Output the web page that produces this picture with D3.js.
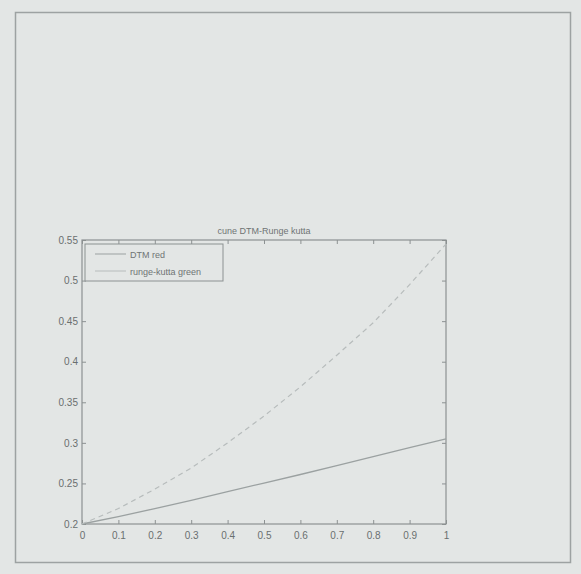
<!DOCTYPE html>
<html>
<head>
<meta charset="utf-8">
<script src="https://cdn.jsdelivr.net/npm/d3@7"></script>
<style>
  body { margin: 0; background: #e3e6e5; }
  svg { display: block; }
  text { font-family: "Liberation Sans", Arial, sans-serif; fill: #6f7474; }
</style>
</head>
<body>
<svg width="581" height="574"></svg>
<script>
// the canvas size
const width = 581
const height = 574

// values
const xValues = [0, 0.1, 0.2, 0.3, 0.4, 0.5, 0.6, 0.7, 0.8, 0.9, 1];
const dtmValues = [0.2, 0.209, 0.219, 0.229, 0.240, 0.2505, 0.261, 0.272, 0.283, 0.294, 0.305];
const rkValues = [0.2, 0.219, 0.243, 0.269, 0.300, 0.333, 0.369, 0.408, 0.448, 0.495, 0.545];
const xTicks = [0, 0.1, 0.2, 0.3, 0.4, 0.5, 0.6, 0.7, 0.8, 0.9, 1];
const yTicks = [0.2, 0.25, 0.3, 0.35, 0.4, 0.45, 0.5, 0.55];
const seriesNames = ["DTM red", "runge-kutta green"];
const titleText = "cune DTM-Runge kutta";

var svg = d3.select(document.getElementsByTagName('svg')[0])

// outer figure frame
svg.append('rect')
  .attr('x', 15.5).attr('y', 12.5)
  .attr('width', 555).attr('height', 550)
  .style('fill', 'none').style('stroke', '#9da2a2').style('stroke-width', 1.5)

// plot box (note: "top" clashes with window.top, so use other names)
var pLeft = 82, pRight = 446, pTop = 240, pBottom = 524

var x = d3.scaleLinear().domain([0, 1]).range([pLeft, pRight])
var y = d3.scaleLinear().domain([0.2, 0.55]).range([pBottom, pTop])

var axisColor = '#8c9192'

// ticks on all four sides, pointing inward (matlab style)
var gx = svg.append('g').attr('transform', 'translate(0,' + pBottom + ')')
  .call(d3.axisBottom(x).tickValues(xTicks).tickSize(-4).tickPadding(8).tickFormat(d => String(+d.toFixed(1))))
var gxTop = svg.append('g').attr('transform', 'translate(0,' + pTop + ')')
  .call(d3.axisTop(x).tickValues(xTicks).tickSize(-4).tickFormat(''))
var gy = svg.append('g').attr('transform', 'translate(' + pLeft + ',0)')
  .call(d3.axisLeft(y).tickValues(yTicks).tickSize(-4).tickPadding(4).tickFormat(d => String(+d.toFixed(2))))
var gyRight = svg.append('g').attr('transform', 'translate(' + pRight + ',0)')
  .call(d3.axisRight(y).tickValues(yTicks).tickSize(-4).tickFormat(''))

;[gx, gxTop, gy, gyRight].forEach(function(g){
  g.select('.domain').remove()
  g.selectAll('line').style('stroke', axisColor)
  g.selectAll('text').style('font-size', '10px').style('fill', '#6a6f6f')
    .style('font-family', '"Liberation Sans", Arial, sans-serif')
})

svg.append('rect')
  .attr('x', pLeft).attr('y', pTop)
  .attr('width', pRight - pLeft).attr('height', pBottom - pTop)
  .style('fill', 'none').style('stroke', axisColor).style('stroke-width', 1.2)

// title
svg.append('text')
  .attr('x', (pLeft + pRight) / 2).attr('y', pTop - 6)
  .attr('text-anchor', 'middle')
  .style('font-size', '9px')
  .text(titleText)

var line = d3.line()
  .x((d, i) => x(xValues[i]))
  .y(d => y(d))

svg.append('path').datum(dtmValues)
  .attr('d', line)
  .style('fill', 'none').style('stroke', '#9ba1a1').style('stroke-width', 1.3)

svg.append('path').datum(rkValues)
  .attr('d', line)
  .style('fill', 'none').style('stroke', '#b7bcbc').style('stroke-width', 1.2)
  .style('stroke-dasharray', '5,4')

// legend
var lg = svg.append('g').attr('transform', 'translate(85,244)')
lg.append('rect')
  .attr('width', 138).attr('height', 37)
  .style('fill', '#e3e6e5').style('stroke', axisColor).style('stroke-width', 1)

var legendColors = ['#9ba1a1', '#b7bcbc']
seriesNames.forEach(function(name, i){
  var ly = 10 + i * 17
  lg.append('line')
    .attr('x1', 10).attr('x2', 41).attr('y1', ly).attr('y2', ly)
    .style('stroke', legendColors[i]).style('stroke-width', 1)
  lg.append('text')
    .attr('x', 45).attr('y', ly + 3.5)
    .style('font-size', '9px')
    .text(name)
})
</script>
</body>
</html>
